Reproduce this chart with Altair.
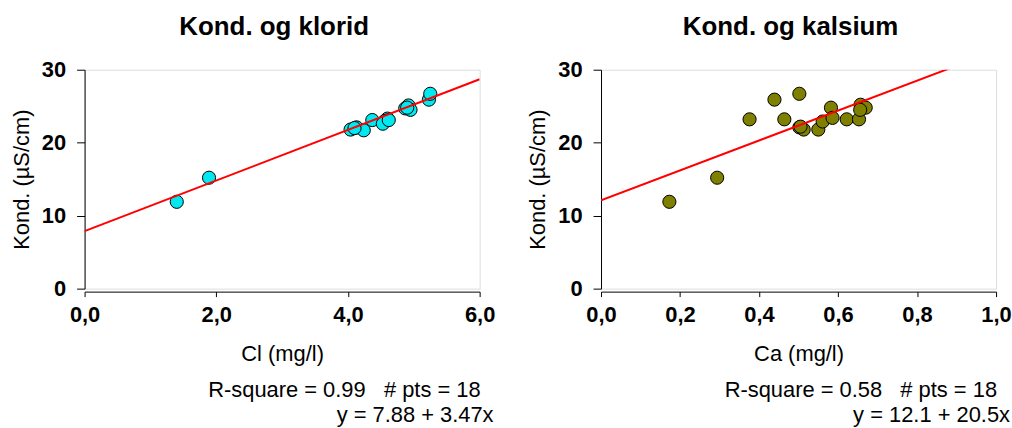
import altair as alt
import pandas as pd

FONT = "Liberation Sans"
NB = "\u00a0"

# Left panel: conductivity vs chloride
cl_x = [1.40, 1.89, 4.04, 4.13, 4.24, 4.37, 4.55, 4.60, 4.57, 4.53, 4.62, 4.87, 4.92, 4.95, 4.90, 5.23, 5.25, 4.10]
cl_y = [11.9, 15.2, 21.8, 22.1, 21.7, 23.1, 22.9, 23.3, 23.0, 22.6, 23.1, 24.7, 25.1, 24.5, 24.8, 25.9, 26.7, 22.0]

# Right panel: conductivity vs calcium
ca_x = [0.173, 0.294, 0.376, 0.439, 0.464, 0.502, 0.502, 0.513, 0.550, 0.561, 0.582, 0.586, 0.622, 0.653, 0.657, 0.670, 0.656, 0.505]
ca_y = [11.9, 15.2, 23.2, 25.9, 23.2, 26.7, 22.1, 21.8, 21.8, 22.9, 24.8, 23.4, 23.2, 23.2, 25.2, 24.8, 24.5, 22.2]

titles = ["Kond. og klorid", "Kond. og kalsium"]
x_titles = ["Cl (mg/l)", "Ca (mg/l)"]
y_title = "Kond. (µS/cm)"
intercepts = [7.88, 12.1]
slopes = [3.47, 20.5]
x_max = [6.0, 1.0]
x_ticks = [[0, 2, 4, 6], [0, 0.2, 0.4, 0.6, 0.8, 1.0]]
y_ticks = [0, 10, 20, 30]
stats_1 = ["R-square = 0.99   # pts = 18", "R-square = 0.58   # pts = 18"]
stats_2 = ["y = 7.88 + 3.47x", "y = 12.1 + 20.5x"]
colors = ["#00E8F0", "#808000"]

W, H = 397, 220


def panel(i, xs, ys):
    df = pd.DataFrame({"x": xs, "y": ys})
    xscale = alt.Scale(domain=[0, x_max[i]], nice=False, zero=True)
    yscale = alt.Scale(domain=[0, 30], nice=False)
    xaxis = alt.Axis(
        values=x_ticks[i],
        labelExpr="replace(format(datum.value, '.1f'), '.', ',')",
        title=x_titles[i], grid=False, offset=3,
        domainColor="black", tickColor="black", tickSize=5,
        labelFont=FONT, labelFontWeight="bold", labelFontSize=22, labelColor="black",
        labelPadding=8, labelFlush=False,
        titleFont=FONT, titleFontWeight="normal", titleFontSize=22, titleColor="black",
        titlePadding=18,
    )
    yaxis = alt.Axis(
        values=y_ticks, format="d", title=y_title, grid=False,
        domainColor="black", tickColor="black", tickSize=8,
        labelFont=FONT, labelFontWeight="bold", labelFontSize=22, labelColor="black",
        labelPadding=11, labelFlush=False,
        titleFont=FONT, titleFontWeight="normal", titleFontSize=22, titleColor="black",
        titlePadding=8,
    )
    pts = alt.Chart(df).mark_circle(
        size=175, color=colors[i], stroke="black", strokeWidth=1, opacity=1
    ).encode(
        x=alt.X("x:Q", scale=xscale, axis=xaxis),
        y=alt.Y("y:Q", scale=yscale, axis=yaxis),
    )
    line_df = pd.DataFrame({"x": [0, x_max[i]], "a": [intercepts[i]] * 2, "b": [slopes[i]] * 2})
    line = alt.Chart(line_df).transform_calculate(
        y="datum.a + datum.b * datum.x"
    ).mark_line(color="red", strokeWidth=2, clip=True).encode(
        x=alt.X("x:Q", scale=xscale),
        y=alt.Y("y:Q", scale=yscale),
    )
    t1 = alt.Chart(pd.DataFrame({"t": [stats_1[i].replace(" ", NB)]})).mark_text(
        align="right", baseline="alphabetic", fontSize=22, font=FONT, color="black"
    ).encode(text="t:N", x=alt.value(W + 1), y=alt.value(329))
    t2 = alt.Chart(pd.DataFrame({"t": [stats_2[i].replace(" ", NB)]})).mark_text(
        align="right", baseline="alphabetic", fontSize=22, font=FONT, color="black"
    ).encode(text="t:N", x=alt.value(W + 14), y=alt.value(354))
    return alt.layer(pts, line, t1, t2).properties(
        width=W, height=H,
        title=alt.TitleParams(
            titles[i], fontSize=26, fontWeight="bold", font=FONT, color="black",
            anchor="middle", frame="group", dx=-8, offset=19,
        ),
    )


left = panel(0, cl_x, cl_y)
right = panel(1, ca_x, ca_y)

chart = alt.hconcat(left, right, spacing=31).properties(
    padding={"left": 10, "top": 12, "right": 0, "bottom": 0}
).configure_view(stroke="black", strokeWidth=1).configure(font=FONT, background="white")

chart.save("out.html", embed_options={"renderer": "svg", "actions": False})
